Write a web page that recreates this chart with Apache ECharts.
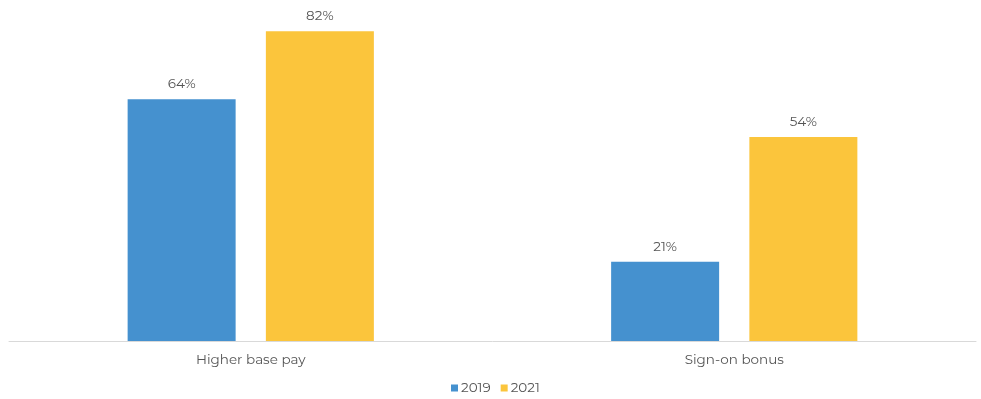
<!DOCTYPE html>
<html>
<head>
<meta charset="utf-8">
<script src="https://cdn.jsdelivr.net/npm/echarts@6/dist/echarts.min.js"></script>
<style>
  html, body { margin: 0; padding: 0; background: #fff; }
  #chart { width: 981px; height: 399px; }
</style>
</head>
<body>
<div id="chart"></div>
<script>
// data
const categories = ['Higher base pay', 'Sign-on bonus']
const seriesNames = ['2019', '2021']
const values2019 = [64, 21]
const values2021 = [82, 54]

const Colors = ['#4591CF', '#FBC53C']
const textColor = '#555555'
const fontFamily = 'Montserrat, "Open Sans", "Noto Sans", sans-serif'

const chart = echarts.init(document.getElementById('chart'), null, { renderer: 'canvas' })

const option = {
  animation: false,
  color: Colors,
  textStyle: { fontFamily: fontFamily },
  legend: {
    top: 381,
    left: 451,
    padding: 0,
    itemWidth: 7,
    itemHeight: 7,
    itemGap: 10,
    icon: 'rect',
    textStyle: { color: textColor, fontSize: 13.5, padding: [0, 0, 0, -2] },
    data: seriesNames
  },
  grid: {
    left: 9,
    right: 5,
    top: 1,
    bottom: 58
  },
  xAxis: {
    type: 'category',
    data: categories,
    axisLine: { show: true, lineStyle: { color: '#D9D9D9', width: 1 } },
    axisTick: { show: false },
    axisLabel: { color: textColor, fontSize: 13.5, margin: 12 }
  },
  yAxis: {
    type: 'value',
    min: 0,
    max: 90,
    show: false,
    splitLine: { show: false }
  },
  series: [
    { name: seriesNames[0], data: values2019 },
    { name: seriesNames[1], data: values2021 }
  ].map(x => ({
    ...x,
    type: 'bar',
    barWidth: 108,
    barGap: '28%',
    label: {
      show: true,
      position: 'top',
      distance: 8,
      color: textColor,
      fontSize: 13.5,
      formatter: p => p.value + '%'
    }
  }))
}

chart.setOption(option, true)
</script>
</body>
</html>
